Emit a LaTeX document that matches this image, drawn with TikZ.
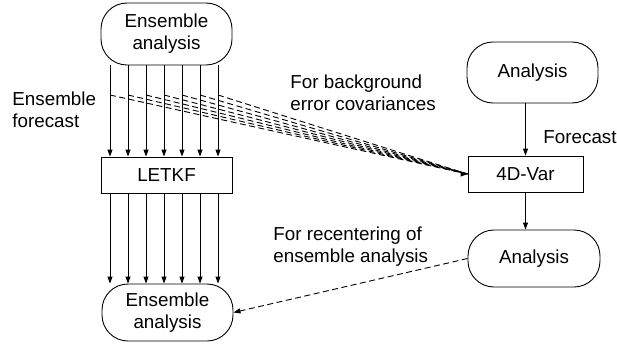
\documentclass[tikz,border=0pt]{standalone}
\usepackage{fontspec}
\setmainfont{Liberation Sans}
\usetikzlibrary{arrows.meta}
\begin{document}
\begin{tikzpicture}[x=1pt,y=-1pt,
  font=\fontsize{18.8}{22}\selectfont,
  line width=0.9pt,
  stadium/.style={draw, rounded corners=26pt, minimum width=131pt, inner sep=0pt, align=center},
  boxnode/.style={draw, minimum width=131pt, minimum height=36pt, inner sep=0pt},
  arr/.style={-{Triangle[length=7pt,width=5pt]}},
  dsh/.style={dash pattern=on 6pt off 3.5pt},
  lbl/.style={anchor=west, align=left, inner sep=0pt}]
\useasboundingbox (0,0) rectangle (617,350);

\node[stadium, minimum height=62pt] (ensTop) at (166.5,34) {Ensemble\\analysis};
\node[boxnode] (letkf) at (166.5,175) {LETKF};
\node[stadium, minimum height=57pt] (ensBot) at (167.5,312.5) {Ensemble\\analysis};
\node[stadium, minimum height=61pt] (anaTop) at (532.5,72.5) {Analysis};
\node[boxnode, minimum width=115pt] (var) at (525.5,174) {4D-Var};
\node[stadium, minimum height=57pt, minimum width=132pt] (anaBot) at (534,258.5) {Analysis};

\foreach \i/\x in {1/110,2/128,3/146,4/164,5/182,6/200,7/218}{
  \coordinate (c\i) at (\x,95);
  \draw[arr] (c\i |- ensTop.south) -- (c\i |- letkf.north);
  \draw[arr] (c\i |- letkf.south) -- (c\i |- ensBot.north);
  \draw[dsh] (c\i) -- (var.west);
}
\draw[arr] ([xshift=-4pt]var.west) -- (var.west);

\draw[arr] (anaTop.south -| var.north) -- (var.north);
\draw[arr] (var.south) -- (var.south |- anaBot.north);
\draw[arr, dsh] (anaBot.west) -- (ensBot.east);

\node[lbl] (lef) at (12,110) {Ensemble\\forecast};
\node[lbl] (lbg) at (290,93) {For background\\error covariances};
\node[lbl] (lfc) at (543,137) {Forecast};
\node[lbl] (lrc) at (273,247) {For recentering of\\ensemble analysis};
\end{tikzpicture}
\end{document}
